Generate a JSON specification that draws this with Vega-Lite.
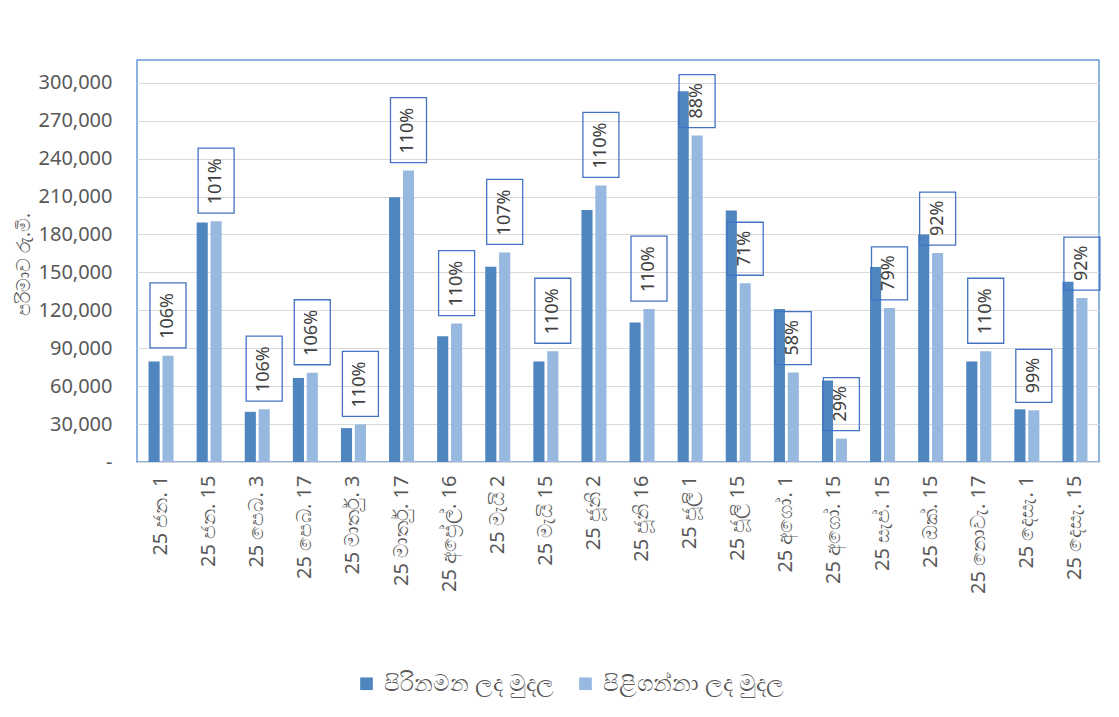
{
  "$schema": "https://vega.github.io/schema/vega-lite/v6.json",
  "width": 962,
  "height": 402,
  "autosize": {"type": "none"},
  "padding": {"left": 137, "top": 60, "right": 20, "bottom": 255},
  "background": "white",
  "config": {
    "font": "Noto Sans",
    "view": {"stroke": "#6a9ad8", "strokeWidth": 1.5}
  },
  "data": {
    "values": [
      {"date": "25 ජන. 1", "offered": 79500, "accepted": 84000, "pct": 1.06},
      {"date": "25 ජන. 15", "offered": 189500, "accepted": 190500, "pct": 1.01},
      {"date": "25 පෙබ. 3", "offered": 39700, "accepted": 41800, "pct": 1.06},
      {"date": "25 පෙබ. 17", "offered": 66500, "accepted": 70600, "pct": 1.06},
      {"date": "25 මාර්තු. 3", "offered": 26800, "accepted": 29700, "pct": 1.10},
      {"date": "25 මාර්තු. 17", "offered": 209500, "accepted": 230500, "pct": 1.10},
      {"date": "25 අප්‍රේල්. 16", "offered": 99500, "accepted": 109500, "pct": 1.10},
      {"date": "25 මැයි 2", "offered": 154500, "accepted": 165800, "pct": 1.07},
      {"date": "25 මැයි 15", "offered": 79500, "accepted": 87600, "pct": 1.10},
      {"date": "25 ජූනි 2", "offered": 199300, "accepted": 218800, "pct": 1.10},
      {"date": "25 ජූනි 16", "offered": 110300, "accepted": 121000, "pct": 1.10},
      {"date": "25 ජූලි 1", "offered": 293300, "accepted": 258200, "pct": 0.88},
      {"date": "25 ජූලි 15", "offered": 199000, "accepted": 141400, "pct": 0.71},
      {"date": "25 අගෝ. 1", "offered": 121000, "accepted": 70700, "pct": 0.58},
      {"date": "25 අගෝ. 15", "offered": 64500, "accepted": 18500, "pct": 0.29},
      {"date": "25 සැප්. 15", "offered": 154200, "accepted": 121900, "pct": 0.79},
      {"date": "25 ඔක්. 15", "offered": 180000, "accepted": 165300, "pct": 0.92},
      {"date": "25 නොවැ. 17", "offered": 79500, "accepted": 87600, "pct": 1.10},
      {"date": "25 දෙසැ. 1", "offered": 41700, "accepted": 40900, "pct": 0.99},
      {"date": "25 දෙසැ. 15", "offered": 142500, "accepted": 129700, "pct": 0.92}
    ]
  },
  "transform": [{"fold": ["offered", "accepted"], "as": ["series", "value"]}],
  "encoding": {
    "x": {
      "field": "date",
      "type": "nominal",
      "sort": null,
      "scale": {"paddingInner": 0.48, "paddingOuter": 0.24},
      "axis": {
        "title": null,
        "labelAngle": 270,
        "labelPadding": 13,
        "labelFontSize": 20,
        "labelColor": "#595959",
        "ticks": false,
        "domain": false,
        "grid": false,
        "labelLimit": 300
      }
    },
    "xOffset": {
      "field": "series",
      "type": "nominal",
      "sort": ["offered", "accepted"],
      "scale": {"paddingInner": 0.2}
    },
    "y": {
      "field": "value",
      "type": "quantitative",
      "scale": {"domain": [0, 318000], "nice": false},
      "axis": {
        "values": [0, 30000, 60000, 90000, 120000, 150000, 180000, 210000, 240000, 270000, 300000],
        "labelExpr": "datum.value == 0 ? '-' : format(datum.value, ',d')",
        "ticks": false,
        "domain": false,
        "labelPadding": 25,
        "labelFontSize": 20,
        "labelColor": "#595959",
        "gridColor": "#d9d9d9",
        "gridWidth": 1.2,
        "title": "පරිමාව රු.මි.",
        "titleFontSize": 19,
        "titleFontWeight": "normal",
        "titleColor": "#595959",
        "titleX": -114,
        "titleY": 204,
        "titleAngle": 270,
        "titleAlign": "center",
        "titleBaseline": "middle"
      }
    }
  },
  "layer": [
    {
      "mark": {"type": "bar"},
      "encoding": {
        "color": {
          "field": "series",
          "type": "nominal",
          "scale": {"domain": ["offered", "accepted"], "range": ["#4f86bf", "#97b9e0"]},
          "legend": {
            "title": null,
            "orient": "none",
            "legendX": 218,
            "legendY": 612,
            "direction": "horizontal",
            "symbolType": "square",
            "symbolSize": 160,
            "symbolStrokeWidth": 0,
            "labelFontSize": 23,
            "labelColor": "#595959",
            "labelOffset": 6,
            "columnPadding": 20,
            "labelLimit": 400,
            "labelExpr": "datum.value == 'offered' ? 'පිරිනමන ලද මුදල' : 'පිළිගන්නා ලද මුදල'"
          }
        }
      }
    },
    {
      "transform": [{"filter": "datum.series == 'accepted' && datum.pct >= 1"}],
      "mark": {
        "type": "point",
        "shape": "M-1.8,-7.3H1.8V-0.8H-1.8Z",
        "size": 400,
        "filled": false,
        "stroke": "#4472c4",
        "strokeWidth": 1.3,
        "opacity": 1
      }
    },
    {
      "transform": [{"filter": "datum.series == 'accepted' && datum.pct < 1"}],
      "mark": {
        "type": "point",
        "shape": "M-1.8,-6.1H1.8V-0.8H-1.8Z",
        "size": 400,
        "filled": false,
        "stroke": "#4472c4",
        "strokeWidth": 1.3,
        "opacity": 1
      }
    },
    {
      "transform": [{"filter": "datum.series == 'accepted'"}],
      "mark": {
        "type": "text",
        "angle": 270,
        "align": "left",
        "baseline": "middle",
        "dx": 17,
        "fontSize": 18,
        "color": "#404040"
      },
      "encoding": {
        "text": {"field": "pct", "type": "quantitative", "format": ".0%"}
      }
    }
  ]
}
